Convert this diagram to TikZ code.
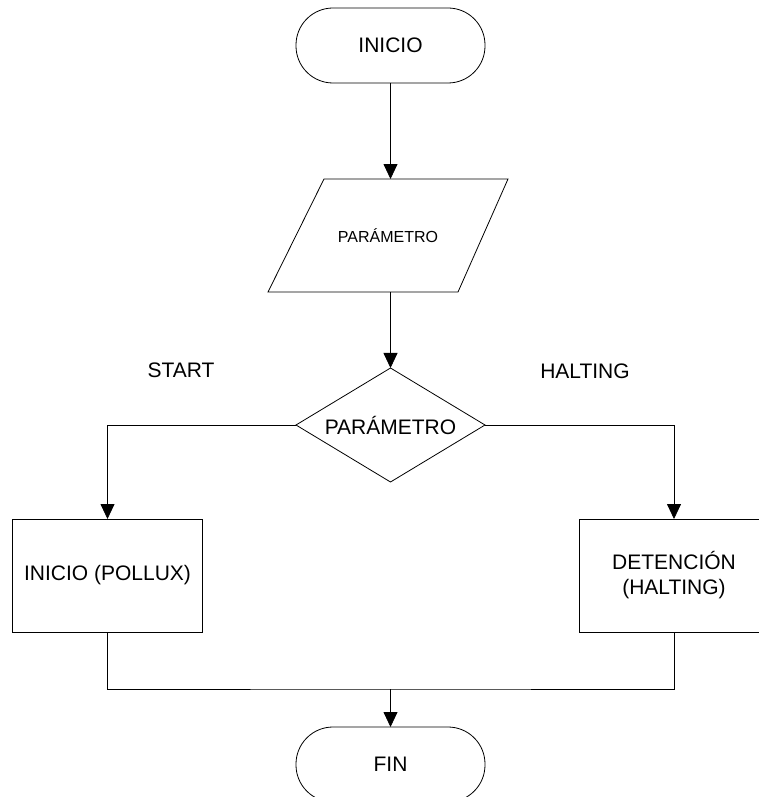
\documentclass[tikz,border=0pt]{standalone}
\usepackage{fontspec}
\setmainfont{Liberation Sans}
\usetikzlibrary{arrows.meta, shapes.geometric}

\begin{document}
\begin{tikzpicture}[x=1pt, y=-1pt, line width=0.8pt,
  font=\fontsize{21}{25}\selectfont,
  terminal/.style={draw, rectangle, rounded corners=37pt, minimum width=189pt,
                   minimum height=75pt, inner sep=0pt, outer sep=0pt},
  decision/.style={draw, diamond, aspect=1.66, minimum width=189pt,
                   minimum height=114pt, inner sep=0pt, outer sep=0pt},
  process/.style={draw, rectangle, minimum width=190pt, minimum height=113pt,
                  align=center, outer sep=0pt},
  flow/.style={-{Triangle[length=15pt, width=14pt]}}]

  \useasboundingbox (0,0) rectangle (758,797);

  % Main column
  \node[terminal] (inicio) at (390.5,45.5) {INICIO};
  \node[font=\fontsize{16}{19}\selectfont] (param) at (388,235.5) {PARÁMETRO};
  \draw[shift={(param.center)}] (-64,-56.5) -- (120,-56.5) -- (70,56.5)
    -- (-120,56.5) -- cycle;
  \coordinate (paramtop) at (390.5,179);
  \coordinate (parambot) at (390.5,292);
  \node[decision] (dec) at (390.5,425) {PARÁMETRO};
  \node[terminal] (fin) at (390.5,764.5) {FIN};

  \draw[flow] (inicio) -- (paramtop);
  \draw[flow] (parambot) -- (dec);

  % Branch labels
  \node (start) at (181,370) {START};
  \node (halting) at (585,371) {HALTING};

  % Branches
  \node[process] (pollux) at (107.5,575.5) {INICIO (POLLUX)};
  \node[process] (halt) at (674,575.5) {DETENCIÓN\\(HALTING)};

  \foreach \a/\b in {west/pollux, east/halt}
    \draw[flow] (dec.\a) -| (\b.north);

  % Merge
  \coordinate (merge) at (390.5,689);
  \draw (pollux.south) |- (merge) -| (halt.south);
  \draw[flow] (merge) -- (fin);

\end{tikzpicture}
\end{document}
